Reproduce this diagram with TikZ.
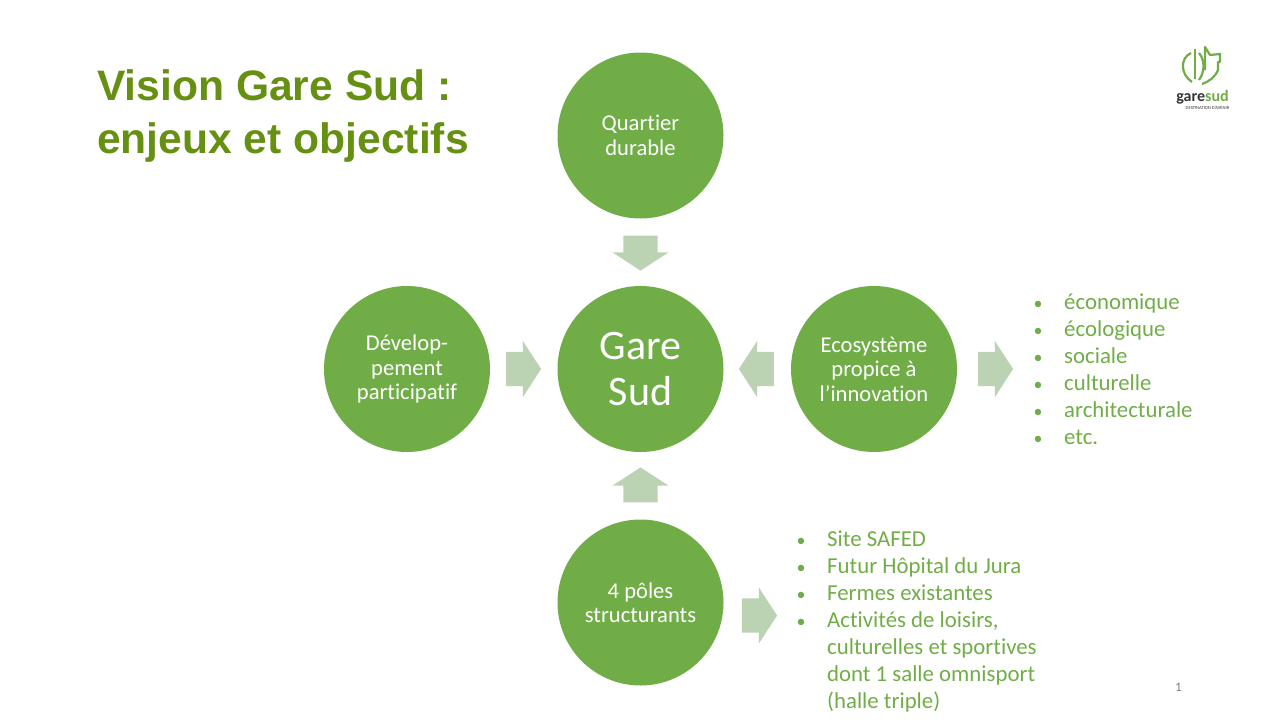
\documentclass[tikz,border=0pt]{standalone}
\usepackage{fontspec}
\setmainfont[Ligatures=NoCommon]{Carlito}
\newfontfamily\titlefont{Liberation Sans}
\usetikzlibrary{positioning,shapes.arrows}
\definecolor{garegreen}{HTML}{70AD47}
\definecolor{titlegreen}{HTML}{669012}
\definecolor{flowgreen}{HTML}{BCD3B3}
\definecolor{logogray}{HTML}{333333}
\newcommand{\dotitem}{\hspace*{1.5pt}{\fontsize{18}{27}\selectfont •}}
\tikzset{
  pole/.style={circle,fill=garegreen,text=white,minimum size=166pt,inner sep=0pt,align=center,
    font=\fontsize{22.6}{24.5}\selectfont},
  flow/.style={single arrow,fill=flowgreen,minimum height=35pt,text height=34pt,text depth=0pt,inner sep=0pt,
    single arrow head extend=11pt,single arrow tip angle=114,anchor=center},
  list/.style={anchor=north west,inner sep=0pt,text=garegreen,font=\fontsize{22.8}{27}\selectfont},
}
\begin{document}
\begin{tikzpicture}[x=1pt,y=1pt,node distance=233.5pt,on grid]
   \useasboundingbox (0,0) rectangle (1280,-720);

   \node[pole,font=\fontsize{42}{46.5}\selectfont] (gare) at (640.5,-369) {Gare\\Sud};
   \node[pole] (quartier) [above=of gare] {Quartier\\durable};
   \node[pole] (dev) [left=of gare] {Dévelop-\\pement\\participatif};
   \node[pole] (eco) [right=of gare] {Ecosystème\\propice à\\l’innovation};
   \node[pole] (poles) [below=of gare] {4 pôles\\structurants};

   \node[flow,rotate=270] (f1) [below=112pt of quartier] {};
   \node[flow] (f2) [right=111pt of dev] {};
   \node[flow,rotate=180] (f3) [left=112pt of eco] {};
   \node[flow,rotate=90] (f4) [above=112pt of poles] {};
   \node[flow] (f5) [right=116pt of eco] {};
   \node[flow] (f6) [right=113.5pt of poles,yshift=-13pt] {};

   \node[list] (ecolist) at (1032,-290) {\begin{tabular}{@{}p{32pt}@{}l@{}}
     \dotitem&économique\\ \dotitem&écologique\\ \dotitem&sociale\\ \dotitem&culturelle\\ \dotitem&architecturale\\ \dotitem&etc.
   \end{tabular}};
   \node[list] (poleslist) at (795,-527) {\begin{tabular}{@{}p{32pt}@{}l@{}}
     \dotitem&Site SAFED\\ \dotitem&Futur Hôpital du Jura\\ \dotitem&Fermes existantes\\ \dotitem&Activités de loisirs,\\
     &culturelles et sportives\\ &dont 1 salle omnisport\\ &(halle triple)
   \end{tabular}};

   \node[anchor=north west,inner sep=0pt,align=left,text=titlegreen,
     font=\titlefont\bfseries\fontsize{42.6}{53}\selectfont] (title) at (97,-69) {Vision Gare Sud :\\enjeux et objectifs};
   \node[text=gray,font=\fontsize{13}{15}\selectfont] (num) at (1178.5,-687) {1};

   % logo
   \draw[garegreen,line width=2.2pt] (1195,-49) -- (1195,-79);
   \draw[garegreen,line width=2.2pt] (1191,-53) .. controls (1180,-58) and (1180,-74) .. (1192,-82);
   \draw[garegreen,line width=2.2pt] (1199,-53) .. controls (1205,-60) and (1205,-72) .. (1199,-80);
   \draw[garegreen,line width=2.2pt,line join=round] (1205,-70) -- (1205,-47) -- (1210,-55) -- (1220,-54)
     -- (1220,-62) -- (1218,-62) -- (1218,-70) .. controls (1215,-77) and (1210,-81) .. (1202,-84);
   \node[inner sep=0pt,font=\bfseries\fontsize{16}{16}\selectfont] (logotext) at (1202.5,-97) {\textcolor{logogray}{gare}\textcolor{garegreen}{sud}};
   \node[inner sep=0pt,text=logogray,font=\fontsize{4.6}{5}\selectfont] (logosub) at (1207.5,-107.5) {DESTINATION D’AVENIR};
\end{tikzpicture}
\end{document}
